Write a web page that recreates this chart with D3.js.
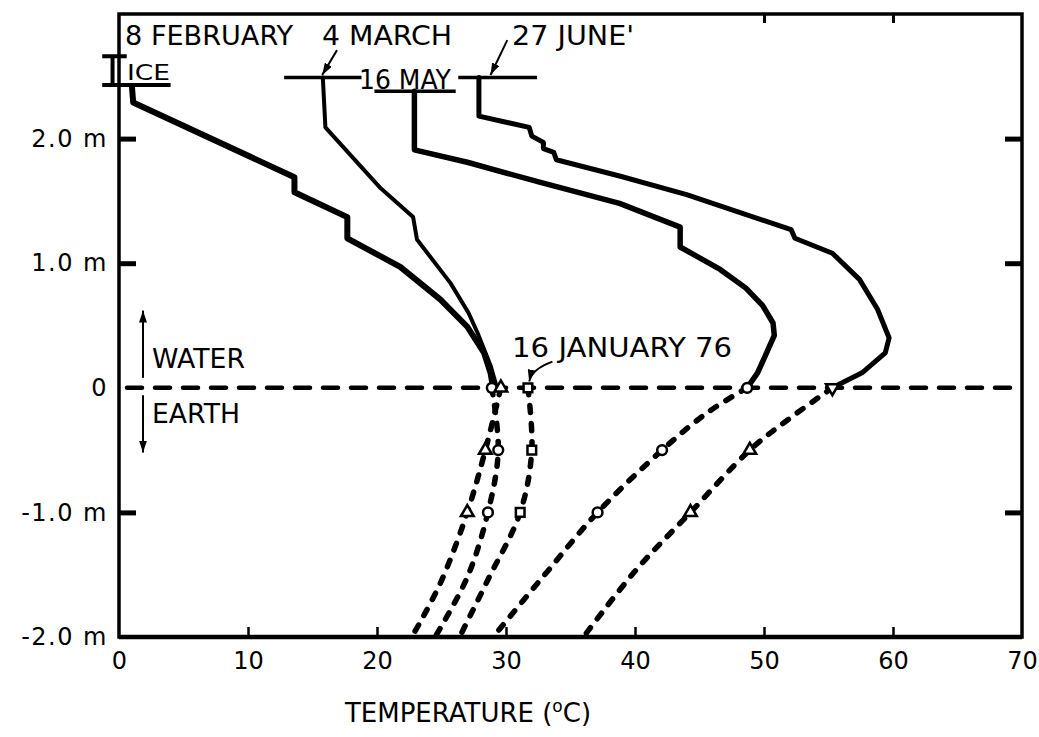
<!DOCTYPE html>
<meta charset="utf-8">
<style>
body { margin: 0; background: #fff; }
text { font-family: "DejaVu Sans", sans-serif; fill: #000; }
.frame { fill: none; stroke: #000; stroke-width: 3.5px; }
.water { fill: none; stroke: #000; stroke-linejoin: round; stroke-linecap: round; }
.earth { fill: none; stroke: #000; stroke-width: 5.5px; stroke-dasharray: 7,11; stroke-linecap: round; }
.zero { stroke: #000; stroke-width: 4.5px; stroke-dasharray: 15,13; stroke-linecap: round; }
.mark { fill: #fff; stroke: #000; stroke-width: 2.5px; }
.surface { stroke: #000; stroke-width: 3.5px; }
.pointer { fill: none; stroke: #000; stroke-width: 2px; }
</style>
<body>
<script src="https://d3js.org/d3.v7.min.js"></script>
<script>
// temperature profiles in a pond: water (solid) and earth below the bottom (dashed)
// points are [temperature degC, depth m]

var xTicks = [0, 10, 20, 30, 40, 50, 60, 70];
var topTicks = [50, 60];
var yTicks = [2, 1, 0, -1, -2];
var yTickLabels = ["2.0 m", "1.0 m", "0", "-1.0 m", "-2.0 m"];
var sideTicks = [2, 1, -1];

var feb8Water = [[1.0, 2.42], [1.1, 2.29], [13.6, 1.69], [13.6, 1.57], [17.7, 1.37], [17.7, 1.20],
  [21.8, 0.97], [24.9, 0.71], [27.0, 0.49], [28.3, 0.28], [28.8, 0.12], [29.0, 0]];
var mar4Water = [[15.8, 2.49], [16.0, 2.09], [20.2, 1.61], [22.8, 1.37], [23.1, 1.19],
  [25.7, 0.84], [27.1, 0.60], [27.8, 0.44], [28.8, 0.18], [29.3, 0]];
var may16Water = [[22.9, 2.38], [22.9, 1.91], [27.0, 1.81], [32.6, 1.65], [38.8, 1.48], [43.5, 1.29],
  [43.5, 1.13], [46.6, 0.95], [48.6, 0.80], [49.9, 0.66], [50.7, 0.52], [50.8, 0.42], [50.2, 0.28],
  [49.5, 0.12], [48.7, 0]];
var jun27Water = [[27.9, 2.49], [27.9, 2.18], [31.8, 2.09], [32.0, 2.02], [32.9, 1.97], [32.9, 1.92],
  [33.7, 1.89], [33.9, 1.83], [38.8, 1.70], [44.0, 1.55], [52.1, 1.27], [52.4, 1.20], [55.3, 1.08],
  [57.4, 0.87], [58.8, 0.63], [59.7, 0.40], [59.4, 0.28], [57.6, 0.12], [55.3, 0]];

var jan16Earth = [[31.7, 0], [32.0, -0.5], [31.1, -1.0], [28.6, -1.54], [26.4, -2.0]];
var feb8Earth = [[28.9, 0], [29.4, -0.5], [28.6, -1.0], [27.0, -1.52], [24.5, -2.0]];
var mar4Earth = [[29.6, 0], [28.4, -0.5], [27.0, -1.0], [24.9, -1.57], [22.7, -2.0]];
var may16Earth = [[48.7, 0], [45.6, -0.2], [42.1, -0.5], [37.1, -1.0], [33.0, -1.5], [29.0, -2.0]];
var jun27Earth = [[55.3, 0], [51.8, -0.26], [48.9, -0.5], [44.3, -1.0], [40.1, -1.46], [36.0, -2.0]];
var markerDepths = [0, -0.5, -1.0];

// water level bars under the date labels
var surfaceDepth = [2.49, 2.38, 2.49];
var surfaceFrom = [12.8, 19.8, 26.3];
var surfaceTo = [18.8, 26.1, 32.4];

var svg = d3.select("body")
    .append("svg")
    .attr("width", 1039)
    .attr("height", 737);

var x = d3.scaleLinear().domain([0, 70]).range([119, 1022]);
var y = d3.scaleLinear().domain([-2, 3]).range([637, 14]);

var line = d3.line()
    .x(function(d) { return x(d[0]); })
    .y(function(d) { return y(d[1]); });

var smooth = d3.line()
    .curve(d3.curveCatmullRom.alpha(0.5))
    .x(function(d) { return x(d[0]); })
    .y(function(d) { return y(d[1]); });

var defs = svg.append("defs");
defs.append("marker")
    .attr("id", "head")
    .attr("viewBox", "0 0 12 8")
    .attr("refX", 12).attr("refY", 4)
    .attr("markerWidth", 12).attr("markerHeight", 8)
    .attr("markerUnits", "userSpaceOnUse")
    .attr("orient", "auto")
  .append("path")
    .attr("d", "M0,0L12,4L0,8Z");

// frame
svg.append("rect")
    .attr("class", "frame")
    .attr("x", x(0)).attr("y", y(3))
    .attr("width", x(70) - x(0))
    .attr("height", y(-2) - y(3));
svg.append("line")
    .attr("stroke", "#000").attr("stroke-width", 4.5)
    .attr("x1", x(0)).attr("x2", x(70))
    .attr("y1", y(-2)).attr("y2", y(-2));

// bottom axis
var gx = svg.append("g")
    .attr("transform", "translate(0," + y(-2) + ")")
    .call(d3.axisBottom(x).tickValues(xTicks).tickSize(-10).tickSizeOuter(0).tickPadding(15));
gx.select(".domain").remove();
gx.selectAll(".tick line").attr("stroke-width", 2.5).filter(function(d) { return d === 0 || d === 70; }).remove();
gx.selectAll("text").attr("font-size", 24).attr("font-family", "DejaVu Sans");

// top ticks
var gt = svg.append("g")
    .attr("transform", "translate(0," + y(3) + ")")
    .call(d3.axisTop(x).tickValues(topTicks).tickSize(-9).tickFormat(""));
gt.select(".domain").remove();
gt.selectAll(".tick line").attr("stroke-width", 3);

// left labels
var gy = svg.append("g")
    .attr("transform", "translate(" + x(0) + ",0)")
    .call(d3.axisLeft(y).tickValues(yTicks).tickSize(0).tickPadding(11)
      .tickFormat(function(d, i) { return yTickLabels[i]; }));
gy.select(".domain").remove();
gy.selectAll("text").attr("font-size", 24).attr("font-family", "DejaVu Sans").style("letter-spacing", "1.5px");

// inner ticks on both sides
var gl = svg.append("g")
    .attr("transform", "translate(" + x(0) + ",0)")
    .call(d3.axisLeft(y).tickValues(sideTicks).tickSize(-17).tickFormat(""));
gl.select(".domain").remove();
gl.selectAll(".tick line").attr("stroke-width", 5);
var gr = svg.append("g")
    .attr("transform", "translate(" + x(70) + ",0)")
    .call(d3.axisRight(y).tickValues(sideTicks).tickSize(-17).tickFormat(""));
gr.select(".domain").remove();
gr.selectAll(".tick line").attr("stroke-width", 5);

// water / earth boundary
svg.append("line")
    .attr("class", "zero")
    .attr("x1", x(0) + 8).attr("x2", x(70))
    .attr("y1", y(0)).attr("y2", y(0));

// water profiles
var waterSeries = [feb8Water, mar4Water, may16Water, jun27Water];
var waterWidth = [6, 4, 5.5, 5];
svg.selectAll(".water")
    .data(waterSeries)
  .enter().append("path")
    .attr("class", "water")
    .attr("stroke-width", function(d, i) { return waterWidth[i]; })
    .attr("d", line);

// earth profiles
var earthSeries = [jan16Earth, feb8Earth, mar4Earth, may16Earth, jun27Earth];
var earthMarker = [d3.symbolSquare, d3.symbolCircle, d3.symbolTriangle, d3.symbolCircle, d3.symbolTriangle];
svg.selectAll(".earth")
    .data(earthSeries)
  .enter().append("path")
    .attr("class", "earth")
    .attr("d", smooth);

earthSeries.forEach(function(s, i) {
  svg.selectAll(null)
      .data(s.filter(function(p) { return markerDepths.indexOf(p[1]) >= 0; }))
    .enter().append("path")
      .attr("class", "mark")
      .attr("d", d3.symbol().type(earthMarker[i]).size(earthMarker[i] === d3.symbolTriangle ? 70 : 75))
      .attr("transform", function(p) {
        var flip = (i === 4 && p[1] === 0) ? " rotate(180)" : "";
        return "translate(" + x(p[0]) + "," + y(p[1]) + ")" + flip;
      });
});

// water level bars
surfaceDepth.forEach(function(d, i) {
  svg.append("line")
      .attr("class", "surface")
      .attr("x1", x(surfaceFrom[i])).attr("x2", x(surfaceTo[i]))
      .attr("y1", y(d)).attr("y2", y(d));
});

// ice on 8 February
svg.append("path")
    .attr("fill", "none").attr("stroke", "#000").attr("stroke-width", 4)
    .attr("d", "M" + x(-1.3) + "," + y(2.66) + "H" + x(0.6) +
               "M" + x(-1.3) + "," + y(2.43) + "H" + x(4.0) +
               "M" + x(-0.5) + "," + y(2.66) + "V" + y(2.43));

// labels
var labelText = ["8 FEBRUARY", "4 MARCH", "27 JUNE'", "16 MAY", "ICE", "16 JANUARY 76", "WATER", "EARTH"];
var labelT = [0.47, 15.74, 30.47, 18.6, 0.62, 30.47, 2.56, 2.56];
var labelD = [2.75, 2.75, 2.75, 2.40, 2.47, 0.25, 0.16, -0.28];
var labelWidth = [168, 130, 122, 92, 43, 220, 93, 88];
var labelSize = [26, 26, 26, 26, 21, 26, 26, 26];

svg.selectAll(".label")
    .data(labelText)
  .enter().append("text")
    .attr("class", "label")
    .attr("x", function(d, i) { return x(labelT[i]); })
    .attr("y", function(d, i) { return y(labelD[i]); })
    .attr("font-size", function(d, i) { return labelSize[i]; })
    .attr("textLength", function(d, i) { return labelWidth[i]; })
    .attr("lengthAdjust", "spacingAndGlyphs")
    .text(function(d) { return d; });

// pointers
var pointers = [
  [[16.9, 2.71], [15.75, 2.51]],
  [[30.1, 2.79], [28.8, 2.51]],
  [[1.86, 0.08], [1.86, 0.62]],
  [[1.86, -0.06], [1.86, -0.52]]
];
svg.selectAll(".pointer")
    .data(pointers)
  .enter().append("path")
    .attr("class", "pointer")
    .attr("d", line)
    .attr("marker-end", "url(#head)");

svg.append("path")
    .attr("class", "pointer")
    .attr("d", "M" + x(33.6) + "," + y(0.21) + "Q" + x(32.0) + "," + y(0.15) + " " + x(31.8) + "," + y(0.05))
    .attr("marker-end", "url(#head)");

// x title
var title = svg.append("text")
    .attr("x", 468)
    .attr("y", 722)
    .attr("text-anchor", "middle")
    .attr("font-size", 26);
title.append("tspan").text("TEMPERATURE (");
title.append("tspan").attr("dy", -10).attr("font-size", 17).text("o");
title.append("tspan").attr("dy", 10).text("C)");
</script>
</body>
